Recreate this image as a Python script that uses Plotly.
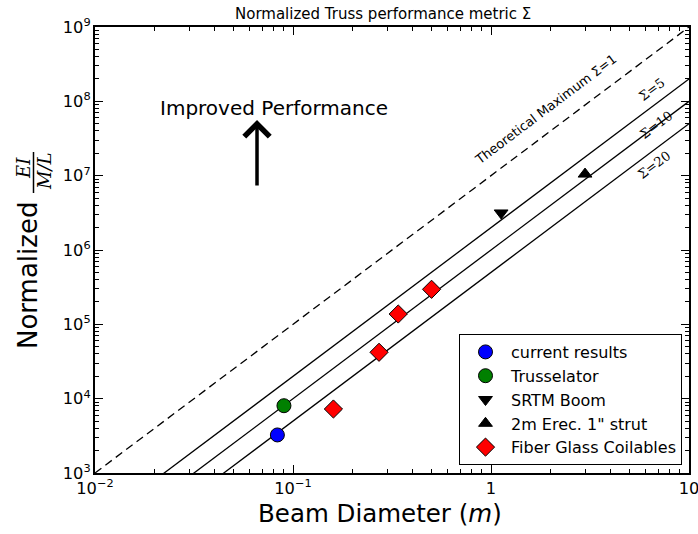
import numpy as np
import plotly.graph_objects as go

# ---- data ----
current_x = [0.0834]
current_y = [3250]
trusselator_x = [0.090]
trusselator_y = [8040]
srtm_x = [1.125]
srtm_y = [3.15e6]
erec_x = [2.985]
erec_y = [1.05e7]
fiberglass_x = [0.160, 0.272, 0.340, 0.501]
fiberglass_y = [7260, 42060, 137700, 296000]

theory_const = 1e7          # theoretical maximum: y = C * x^2
sigma_values = [5, 10, 20]
line_x = [0.01, 10.0]

fig = go.Figure()

fig.add_trace(go.Scatter(x=line_x, y=[theory_const * v ** 2 for v in line_x],
                         mode="lines", line=dict(color="black", width=1.3, dash="8px,5px"),
                         showlegend=False, hoverinfo="skip"))
for s in sigma_values:
    fig.add_trace(go.Scatter(x=line_x, y=[theory_const * v ** 2 / s for v in line_x],
                             mode="lines", line=dict(color="black", width=1.3),
                             showlegend=False, hoverinfo="skip"))

mk_line = dict(color="black", width=1)
series = [
    ("current results", current_x, current_y, "circle", 14, "blue"),
    ("Trusselator", trusselator_x, trusselator_y, "circle", 14, "green"),
    ("SRTM Boom", srtm_x, srtm_y, "triangle-down", 12, "black"),
    ("2m Erec. 1\" strut", erec_x, erec_y, "triangle-up", 12, "black"),
    ("Fiber Glass Coilables", fiberglass_x, fiberglass_y, "diamond", 14, "red"),
]
for i, (name, xs, ys, sym, sz, col) in enumerate(series):
    fig.add_trace(go.Scatter(x=xs, y=ys, mode="markers", name=name, legendgroup=f"g{i}",
                             marker=dict(symbol=sym, size=sz, color=col, line=mk_line)))

axis_common = dict(type="log", showline=True, linecolor="black", linewidth=1.5, mirror="allticks",
                   ticks="inside", ticklen=8, tickwidth=1, tickcolor="black", showgrid=False,
                   zeroline=False, dtick=1, exponentformat="power", automargin=False,
                   ticklabeloverflow="allow",
                   tickfont=dict(family="DejaVu Sans", size=13, color="black"),
                   minor=dict(ticks="inside", ticklen=4, tickcolor="black", dtick="D1", showgrid=False))
fig.update_xaxes(range=[-2, 1], **axis_common)
fig.update_yaxes(range=[3, 9], **axis_common)


def paper(px, py):
    return dict(x=(px - 95) / 594, y=(473 - py) / 446, xref="paper", yref="paper",
                xanchor="center", yanchor="middle", showarrow=False)


ann = []
ann.append(dict(text="Normalized Truss performance metric Σ",
                font=dict(family="DejaVu Sans", size=15, color="black"), **paper(383, 14)))
ann.append(dict(text="Beam Diameter (<i>m</i>)",
                font=dict(family="DejaVu Sans", size=24.5, color="black"), **paper(380, 513)))
ann.append(dict(text="Normalized", textangle=-90,
                font=dict(family="DejaVu Sans", size=26, color="black"), **paper(28, 276)))
ann.append(dict(text="<i>EI</i>", textangle=-90,
                font=dict(family="DejaVu Serif", size=18, color="black"), **paper(23, 168)))
ann.append(dict(text="<i>M/L</i>", textangle=-90,
                font=dict(family="DejaVu Serif", size=18, color="black"), **paper(44, 172)))
ann.append(dict(text="Improved Performance", x=np.log10(0.072) + 0.045, y=7.91, xref="x", yref="y",
                xanchor="center", yanchor="middle", showarrow=False,
                font=dict(family="DejaVu Sans", size=20, color="black")))
ann.append(dict(text="", x=np.log10(0.0658), y=7.749, xref="x", yref="y", ax=0, ay=67,
                showarrow=True, arrowhead=4, arrowwidth=3.5, arrowsize=1.4, arrowcolor="black"))
ann.append(dict(text="Theoretical Maximum Σ=1", x=0.275, y=7.89, xref="x", yref="y", textangle=-37,
                xanchor="center", yanchor="middle", showarrow=False,
                font=dict(family="DejaVu Sans", size=13, color="black")))
for s, lx, ly in zip(sigma_values, [0.813, 0.838, 0.828], [8.153, 7.682, 7.144]):
    ann.append(dict(text=f"Σ={s}", x=lx, y=ly, xref="x", yref="y", textangle=-37,
                    xanchor="center", yanchor="middle", showarrow=False,
                    font=dict(family="DejaVu Serif", size=13, color="black")))

fig.update_layout(
    width=698, height=534,
    margin=dict(l=95, r=9, t=27, b=61),
    plot_bgcolor="white", paper_bgcolor="white",
    annotations=ann,
    shapes=[dict(type="line", xref="paper", yref="paper",
                 x0=(33.5 - 95) / 594, x1=(33.5 - 95) / 594,
                 y0=(473 - 193) / 446, y1=(473 - 152) / 446,
                 line=dict(color="black", width=1.5))],
    legend=dict(x=(682 - 95) / 594, y=(473 - 465) / 446, xanchor="right", yanchor="bottom",
                bordercolor="black", borderwidth=1, bgcolor="white", itemwidth=41,
                font=dict(family="DejaVu Sans", size=16, color="black"),
                tracegroupgap=0, traceorder="normal"),
    showlegend=True,
)

fig.write_html("out.html", config={"displayModeBar": False},
               post_script="document.body.style.margin='0';")
